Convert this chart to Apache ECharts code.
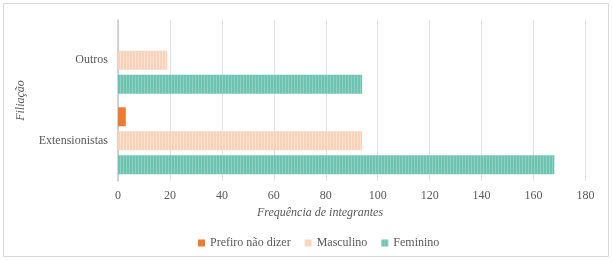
<!DOCTYPE html>
<html>
<head>
<meta charset="utf-8">
<script src="https://cdn.jsdelivr.net/npm/echarts@6/dist/echarts.min.js"></script>
<style>
  html, body { margin: 0; padding: 0; background: #fff; }
  #chart { width: 613px; height: 261px; }
</style>
</head>
<body>
<div id="chart"></div>
<script>
  // categories bottom -> top
  var categories = ['Extensionistas', 'Outros'];
  var prefiro = [3, 0];
  var masculino = [94, 19];
  var feminino = [168, 94];
  var xTicks = { min: 0, max: 180, interval: 20 };

  var font = 'Liberation Serif';
  var grey = '#595959';

  var chart = echarts.init(document.getElementById('chart'));

  var stripes = function (c) {
    return {
      symbol: 'rect',
      color: c,
      symbolSize: 1,
      dashArrayX: [1, 2],
      dashArrayY: [10, 0],
      rotation: 0
    };
  };

  var option = {
    animation: false,
    textStyle: { fontFamily: font },
    graphic: [
      {
        type: 'rect',
        shape: { x: 3.5, y: 3.5, width: 605, height: 253 },
        style: { fill: 'none', stroke: '#d9d9d9', lineWidth: 1 },
        silent: true
      },
      {
        type: 'text',
        x: 320, y: 213,
        style: {
          text: 'Frequência de integrantes',
          font: 'italic 12px "Liberation Serif"',
          fill: grey,
          textAlign: 'center',
          textVerticalAlign: 'middle'
        }
      }
    ],
    legend: {
      left: 193,
      top: 232,
      itemWidth: 7,
      itemHeight: 7,
      itemGap: 14,
      icon: 'rect',
      textStyle: { fontFamily: font, fontSize: 12, color: grey },
      data: ['Prefiro não dizer', 'Masculino', 'Feminino']
    },
    grid: { left: 118, right: 27.5, top: 20, bottom: 80 },
    xAxis: {
      type: 'value',
      min: xTicks.min,
      max: xTicks.max,
      interval: xTicks.interval,
      axisLine: { show: false },
      axisTick: { show: false },
      axisLabel: { fontFamily: font, fontSize: 12, color: grey, margin: 9 },
      splitLine: { lineStyle: { color: '#e2e2e2', width: 1 } }
    },
    yAxis: {
      type: 'category',
      data: categories,
      name: 'Filiação',
      nameLocation: 'middle',
      nameGap: 91,
      nameRotate: 90,
      nameTextStyle: { fontFamily: font, fontSize: 12, fontStyle: 'italic', color: grey },
      axisLine: { show: true, lineStyle: { color: '#c4c4cc', width: 1.5 } },
      axisTick: { show: false },
      axisLabel: { fontFamily: font, fontSize: 12, color: grey, margin: 10 }
    },
    series: [
      {
        name: 'Prefiro não dizer',
        type: 'bar',
        data: prefiro,
        barWidth: 19,
        barGap: '26%',
        itemStyle: { color: '#ef7b2f' }
      },
      {
        name: 'Masculino',
        type: 'bar',
        data: masculino,
        barWidth: 19,
        barGap: '26%',
        itemStyle: { color: '#f8d2b9', decal: stripes('rgba(255,255,255,0.35)') }
      },
      {
        name: 'Feminino',
        type: 'bar',
        data: feminino,
        barWidth: 19,
        barGap: '26%',
        itemStyle: { color: '#6fc3b1', decal: stripes('rgba(255,255,255,0.22)') }
      }
    ]
  };

  chart.setOption(option);
</script>
</body>
</html>
